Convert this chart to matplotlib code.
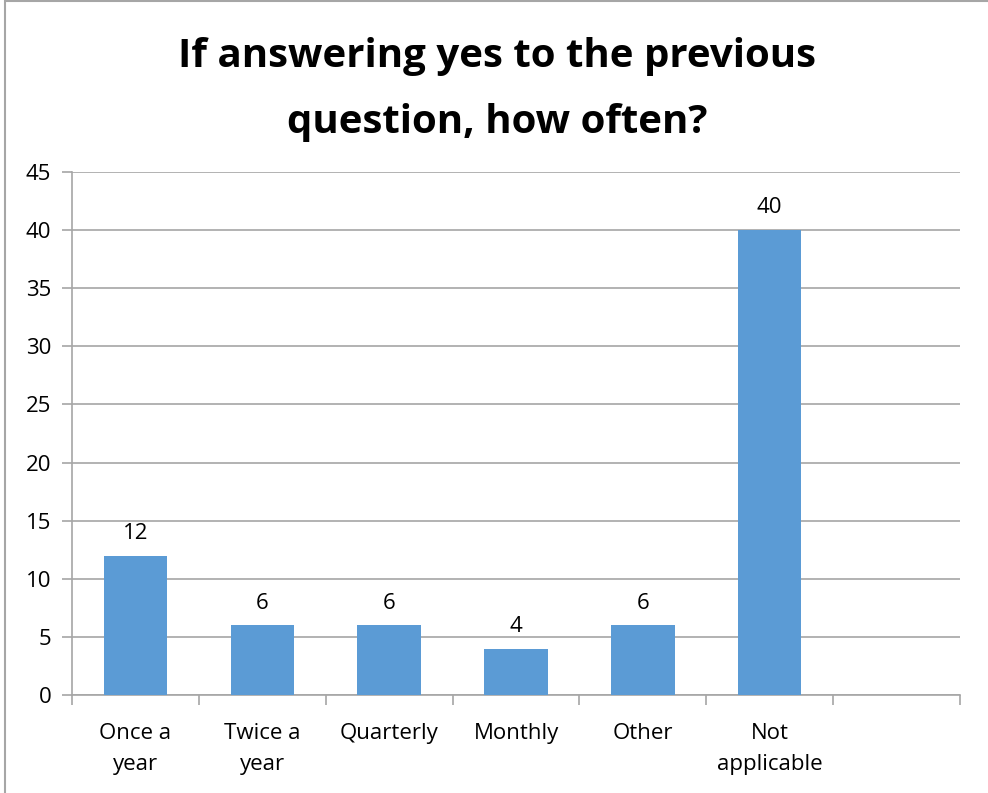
import matplotlib.pyplot as plt
from matplotlib.patches import Rectangle
from matplotlib.ticker import FixedLocator

categories = ['Once a\nyear', 'Twice a\nyear', 'Quarterly', 'Monthly', 'Other', 'Not\napplicable', '']
counts = [12, 6, 6, 4, 6, 40, None]

W, H = 988, 793
fig = plt.figure(figsize=(W / 100, H / 100), dpi=100)
plt.rcParams['font.family'] = ['Open Sans', 'DejaVu Sans']

# outer chart frame (only left and top edges fall inside the image)
fig.add_artist(Rectangle((4.5 / W, -0.1), 1.2, 1.1 - 1.5 / H, transform=fig.transFigure,
                         fill=False, edgecolor='#a6a6a6', linewidth=1.5))

ax = fig.add_axes([72 / W, 1 - 695 / H, (960 - 72) / W, (695 - 172) / H])

x = list(range(len(categories)))
vals = [v for v in counts if v is not None]
ax.bar(x[:len(vals)], vals, width=0.5, color='#5b9bd5', zorder=3)

for i, v in enumerate(vals):
    ax.text(i, v + 1.0, str(v), ha='center', va='bottom', fontsize=16)

ax.set_xlim(-0.5, len(categories) - 0.5)
ax.set_ylim(0, 45)
ax.set_yticks(range(0, 46, 5))
ax.yaxis.grid(True, color='#a6a6a6', linewidth=1.2, zorder=0)

ax.set_xticks(x)
ax.set_xticklabels(categories, fontsize=16, linespacing=1.65)
ax.xaxis.set_minor_locator(FixedLocator([i - 0.5 for i in range(len(categories) + 1)]))
ax.tick_params(axis='x', which='major', length=0, pad=20)
ax.tick_params(axis='x', which='minor', length=7, color='#a6a6a6', width=1.2)
ax.tick_params(axis='y', length=7, color='#a6a6a6', width=1.2, labelsize=16, pad=8)

for s in ['top', 'right']:
    ax.spines[s].set_visible(False)
for s in ['left', 'bottom']:
    ax.spines[s].set_color('#a6a6a6')
    ax.spines[s].set_linewidth(1.2)

fig.text(497 / W, 1 - 89.5 / H, 'If answering yes to the previous\nquestion, how often?',
         ha='center', va='center', fontsize=29, fontweight='bold', linespacing=1.9)

fig.savefig('out.png', dpi=100)
